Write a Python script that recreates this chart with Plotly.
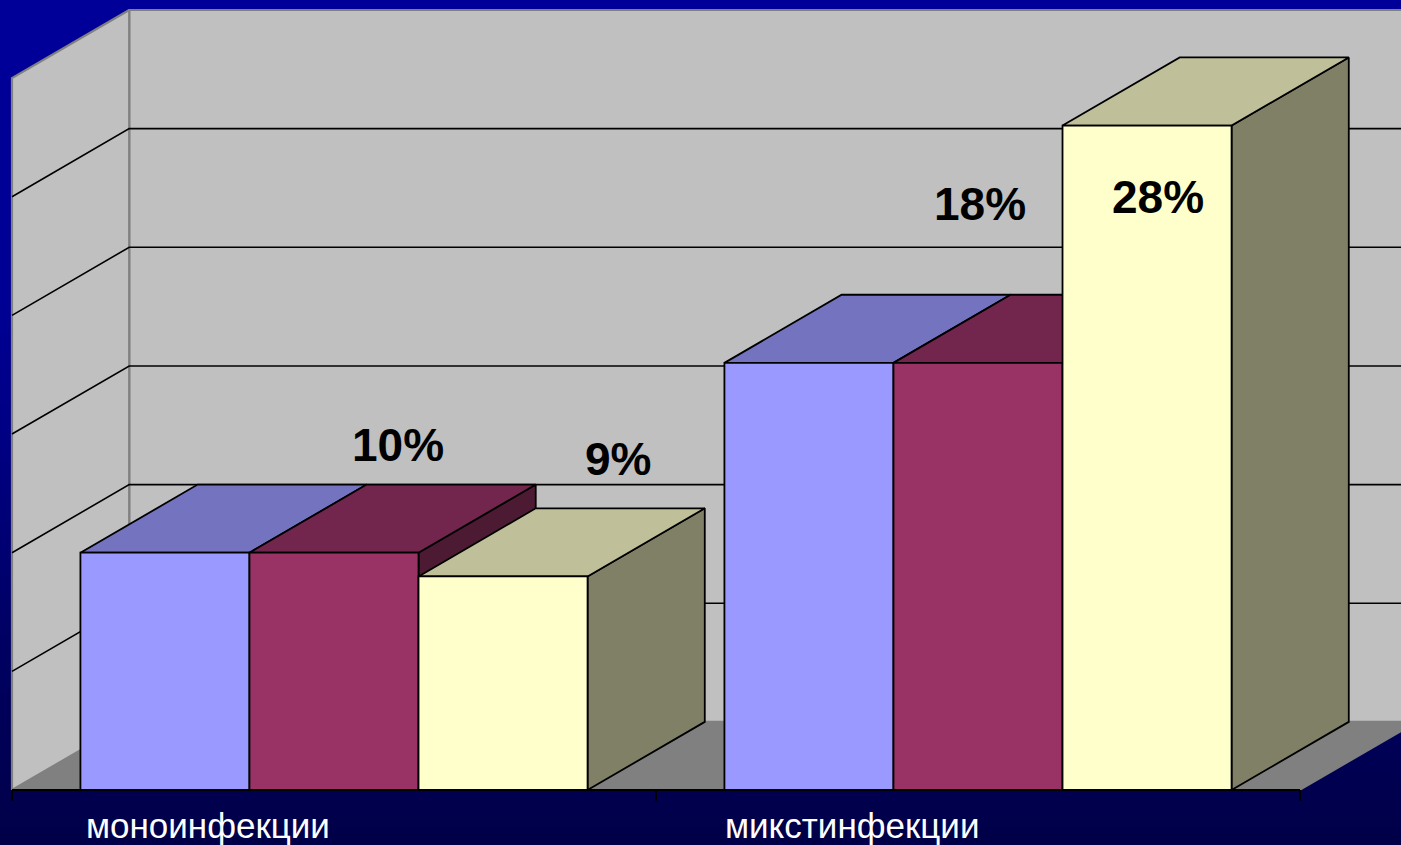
import plotly.graph_objects as go

# ---- data -------------------------------------------------------------
categories = ["моноинфекции", "микстинфекции"]
series_1 = [10, 18]
series_2 = [10, 18]
series_3 = [9, 28]
all_series = [series_1, series_2, series_3]

# value labels: (series index, category index)
labelled_bars = [(1, 0), (2, 0), (1, 1), (2, 1)]

# gridline levels on the walls (percent) and wall height
grid_levels = [5, 10, 15, 20, 25]
wall_top = 30

# ---- styling / geometry -----------------------------------------------
W, H = 1401, 845
PX_X = 644.0        # pixels per category unit
PX_Y = 23.73        # pixels per percent
ORIGIN_PX = (12, 790)

DX, DY = 0.182, 2.87          # oblique depth offset (x units, percent)
BAR_W = 0.2625
GAP = (1 - 3 * BAR_W) / 2

front_col = ["#9999FF", "#993366", "#FFFFCC"]
top_col = ["#7373BF", "#73264D", "#BFBF99"]
side_col = ["#4D4D80", "#4D1A33", "#808066"]

# label placement relative to bar front centre / bar value
label_offsets = {(1, 0): (0.100, 4.55), (2, 0): (0.178, 4.95),
                 (1, 1): (0.003, 6.70), (2, 1): (0.017, -3.03)}
cat_label_shift = 0.305
cat_label_y = -1.50

x_range = [-ORIGIN_PX[0] / PX_X, (W - ORIGIN_PX[0]) / PX_X]
y_range = [-(H - ORIGIN_PX[1]) / PX_Y, ORIGIN_PX[1] / PX_Y]

fig = go.Figure()


def poly(pts, fill, line_col="black", line_w=1.8):
    xs = [p[0] for p in pts] + [pts[0][0]]
    ys = [p[1] for p in pts] + [pts[0][1]]
    fig.add_trace(go.Scatter(
        x=xs, y=ys, mode="lines", fill="toself", fillcolor=fill,
        line=dict(color=line_col, width=line_w), hoverinfo="skip",
        showlegend=False))


# background gradient
fig.add_trace(go.Scatter(
    x=[x_range[0], x_range[1], x_range[1], x_range[0], x_range[0]],
    y=[y_range[0], y_range[0], y_range[1], y_range[1], y_range[0]],
    mode="lines", fill="toself", line=dict(width=0),
    fillgradient=dict(
        type="vertical", start=y_range[0], stop=y_range[1],
        colorscale=[[0, "#000048"], [0.23, "#000062"], [0.47, "#000082"],
                    [0.65, "#000095"], [1, "#000099"]]),
    hoverinfo="skip", showlegend=False))

n_cat = len(categories)

# floor, back wall, side wall
poly([(0, 0), (n_cat, 0), (n_cat + DX, DY), (DX, DY)], "#808080", "#808080", 1.5)
poly([(DX, DY), (n_cat + DX, DY), (n_cat + DX, wall_top + DY), (DX, wall_top + DY)],
     "#C0C0C0", "#808080", 2.2)
poly([(0, 0), (DX, DY), (DX, wall_top + DY), (0, wall_top)],
     "#C0C0C0", "#808080", 2.2)

# gridlines
gx, gy = [], []
for g in grid_levels:
    gx += [0, DX, n_cat + DX, None]
    gy += [g, g + DY, g + DY, None]
fig.add_trace(go.Scatter(x=gx, y=gy, mode="lines",
                         line=dict(color="black", width=1.6),
                         hoverinfo="skip", showlegend=False))

# 3D bars, drawn left to right so each front face hides the previous side
for c in range(n_cat):
    for s, vals in enumerate(all_series):
        v = vals[c]
        x0 = c + GAP + s * BAR_W
        x1 = x0 + BAR_W
        poly([(x1, 0), (x1 + DX, DY), (x1 + DX, v + DY), (x1, v)], side_col[s])
        poly([(x0, v), (x1, v), (x1 + DX, v + DY), (x0 + DX, v + DY)], top_col[s])
        poly([(x0, 0), (x1, 0), (x1, v), (x0, v)], front_col[s])

# category axis line and ticks
ax, ay = [0, n_cat, None], [0, 0, None]
for t in range(n_cat + 1):
    ax += [t, t, None]
    ay += [0, -0.45, None]
fig.add_trace(go.Scatter(x=ax, y=ay, mode="lines",
                         line=dict(color="black", width=2),
                         hoverinfo="skip", showlegend=False))

annotations = []
for c, name in enumerate(categories):
    annotations.append(dict(
        x=c + cat_label_shift, y=cat_label_y, text=name, showarrow=False,
        xanchor="center", yanchor="middle",
        font=dict(family="Liberation Sans, Arial", size=35, color="white")))

for (s, c) in labelled_bars:
    v = all_series[s][c]
    ox, oy = label_offsets[(s, c)]
    xc = c + GAP + (s + 0.5) * BAR_W
    annotations.append(dict(
        x=xc + ox, y=v + oy, text=f"<b>{v}%</b>", showarrow=False,
        xanchor="center", yanchor="middle",
        font=dict(family="Liberation Sans, Arial", size=46, color="black")))

fig.update_layout(
    width=W, height=H, margin=dict(l=0, r=0, t=0, b=0),
    paper_bgcolor="#000099", plot_bgcolor="#000099",
    xaxis=dict(range=x_range, visible=False, fixedrange=True),
    yaxis=dict(range=y_range, visible=False, fixedrange=True),
    annotations=annotations, showlegend=False)

fig.write_html("out.html")
